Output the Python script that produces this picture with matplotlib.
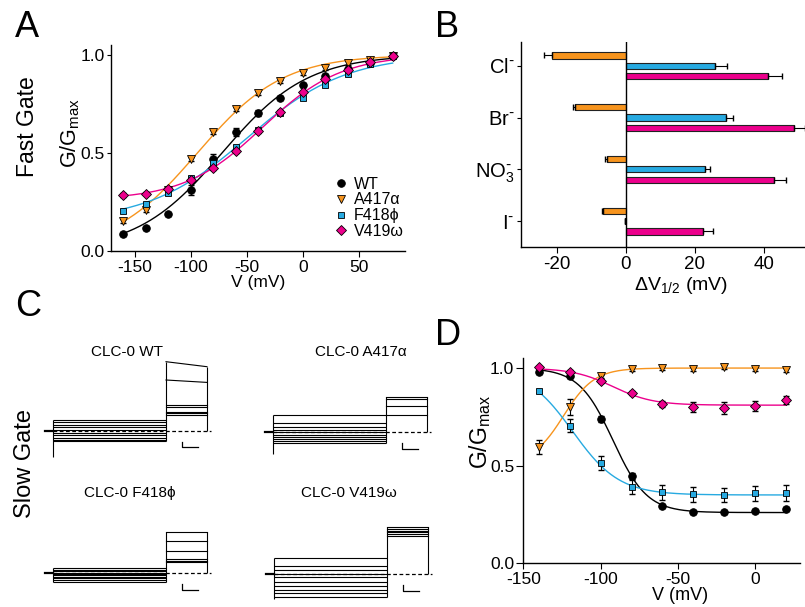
import numpy as np
import matplotlib
matplotlib.use("Agg")
import matplotlib.pyplot as plt
from matplotlib.ticker import FormatStrFormatter

plt.rcParams['font.family'] = ['Liberation Sans', 'DejaVu Sans']
plt.rcParams['axes.unicode_minus'] = False
plt.rcParams['axes.linewidth'] = 1.0
plt.rcParams['xtick.major.size'] = 4
plt.rcParams['ytick.major.size'] = 3
plt.rcParams['xtick.major.pad'] = 2.5
plt.rcParams['ytick.major.pad'] = 1.5
plt.rcParams['xtick.labelsize'] = 12.5
plt.rcParams['ytick.labelsize'] = 12.5

# ---- data ----
names = ['WT', 'A417α', 'F418ϕ', 'V419ω']
col_wt = 'black'
col_a = '#F7941D'
col_f = '#27AAE1'
col_v = '#EC008C'
colors = [col_wt, col_a, col_f, col_v]
markers = ['o', 'v', 's', 'D']
msizes = [5.5, 5.5, 4.8, 5.0]

# panel A, fast gate
v_fast = [-160, -140, -120, -100, -80, -60, -40, -20, 0, 20, 40, 60, 80]
wt_fast = [0.089, 0.118, 0.19, 0.31, 0.47, 0.605, 0.705, 0.78, 0.847, 0.893, 0.93, 0.96, 0.995]
a417_fast = [0.152, 0.208, 0.31, 0.467, 0.608, 0.726, 0.804, 0.864, 0.906, 0.935, 0.957, 0.974, 0.995]
f418_fast = [0.206, 0.242, 0.296, 0.373, 0.446, 0.531, 0.617, 0.702, 0.782, 0.847, 0.903, 0.952, 0.995]
v419_fast = [0.284, 0.293, 0.317, 0.361, 0.424, 0.511, 0.611, 0.709, 0.808, 0.876, 0.923, 0.961, 0.995]
wt_fast_err = [0.01, 0.01, 0.01, 0.025, 0.025, 0.02, 0.015, 0.01, 0.01, 0.01, 0.01, 0.01, 0.005]
a417_fast_err = [0.01] * 13
f418_fast_err = [0.01] * 13
v419_fast_err = [0.01] * 13

# panel B, shift of V1/2 for anions
ions = ['Cl$^{\\text{-}}$', 'Br$^{\\text{-}}$',
        'NO$_{\\mathregular{3}}^{\\text{-}}$', 'I$^{\\text{-}}$']
a417_dv = [-21.4, -14.6, -5.5, -6.5]
a417_dv_err = [2.2, 0.8, 0.5, 0.3]
f418_dv = [25.8, 28.9, 22.9, -0.3]
f418_dv_err = [3.4, 2.2, 1.3, 0.0]
v419_dv = [41.2, 48.7, 42.7, 22.4]
v419_dv_err = [3.9, 3.2, 3.6, 2.7]

# panel C, current levels of the traces (schematic units)
trace_t = [0, 8, 121, 162, 166]   # hold, test, tail, end, stop
wt_test = [10.7, 8.5, 6, 3.5, 1, -2, -4.5, -7, -9, -10.3]
wt_tail = [69, 50.7, 25.7, 24, 19, 17.3, 15.7]
wt_tail_end = [64, 48.3, 25.7, 24, 19, 17.3, 15.7]
a417_test = [17.3, 9.7, 5.5, 2.5, 0.7, -2.5, -4.5, -6.5, -8.5, -11]
a417_tail = [35, 33.3, 26.7, 17.3]
f418_test = [5, 3.5, 2, 0.8, -0.5, -2, -3.5, -5, -6.5, -8.3]
f418_tail = [41, 32.7, 22.3, 14.3, 12.5, 11]
v419_test = [15.7, 8.3, 4, 0, -3.3, -7.7, -11.7, -16, -19.3, -22.7]
v419_tail = [46.7, 45, 43.3, 41.7, 40, 38]
spikes = [-26, -21.7, -9, -25.3]

# panel D, slow gate
v_slow = [-140, -120, -100, -80, -60, -40, -20, 0, 20]
wt_slow = [0.98, 0.957, 0.741, 0.448, 0.295, 0.264, 0.264, 0.267, 0.278]
a417_slow = [0.596, 0.80, 0.957, 0.997, 1.0, 0.995, 1.005, 0.995, 0.99]
f418_slow = [0.884, 0.705, 0.513, 0.392, 0.363, 0.353, 0.351, 0.358, 0.361]
v419_slow = [1.003, 0.98, 0.932, 0.874, 0.818, 0.799, 0.797, 0.804, 0.838]
wt_slow_err = [0.01, 0.01, 0.015, 0.015, 0.01, 0.01, 0.01, 0.01, 0.01]
a417_slow_err = [0.035, 0.04, 0.01, 0.01, 0.01, 0.01, 0.01, 0.01, 0.01]
f418_slow_err = [0.01, 0.035, 0.035, 0.035, 0.04, 0.04, 0.035, 0.04, 0.04]
v419_slow_err = [0.01, 0.01, 0.01, 0.01, 0.015, 0.025, 0.03, 0.025, 0.02]


def boltzmann(v, pmin, vh, k):
    return pmin + (1 - pmin) / (1 + np.exp((v - vh) / k))


def fit_boltzmann(v, g):
    # crude grid search least squares
    v = np.asarray(v, float)
    g = np.asarray(g, float)
    pm = np.arange(0, 0.91, 0.01)
    vh = np.arange(-200, 41, 2.0)
    kk = np.r_[-np.arange(60, 3, -1.0), np.arange(4, 61, 1.0)]
    P, V, K = np.meshgrid(pm, vh, kk, indexing='ij')
    with np.errstate(over='ignore'):
        pred = boltzmann(v, P[..., None], V[..., None], K[..., None])
    sse = ((pred - g) ** 2).sum(-1)
    i = np.unravel_index(np.argmin(sse), sse.shape)
    return P[i], V[i], K[i]


W, H = 805, 607
fig = plt.figure(figsize=(W / 100, H / 100), dpi=100)


def px_axes(left, top, right, bottom):
    return fig.add_axes([left / W, 1 - bottom / H, (right - left) / W, (bottom - top) / H])


def clean(ax):
    ax.spines['top'].set_visible(False)
    ax.spines['right'].set_visible(False)


# ---- A ----
axA = px_axes(111, 45, 405, 251)
clean(axA)
fast = [wt_fast, a417_fast, f418_fast, v419_fast]
fast_err = [wt_fast_err, a417_fast_err, f418_fast_err, v419_fast_err]
vv = np.linspace(-160, 80, 200)
for g, e, c, m, ms, n in zip(fast, fast_err, colors, markers, msizes, names):
    p = fit_boltzmann(v_fast, g)
    axA.plot(vv, boltzmann(vv, *p), color=c, lw=1, zorder=1)
    axA.errorbar(v_fast, g, yerr=e, fmt='none', ecolor='k', elinewidth=0.8, capsize=2, zorder=2)
    axA.plot(v_fast, g, ls='none', marker=m, ms=ms, mfc=c, mec='k', mew=0.6, label=n, zorder=3)
axA.set_xlim(-171, 91)
axA.set_ylim(0, 1.05)
axA.set_xticks([-150, -100, -50, 0, 50])
axA.set_yticks([0, 0.5, 1.0])
axA.yaxis.set_major_formatter(FormatStrFormatter('%.1f'))
axA.set_xlabel('V (mV)', fontsize=12.5, labelpad=0)
axA.set_ylabel('G/G$_{\\mathregular{max}}$', fontsize=15.5)
axA.yaxis.set_label_coords(-0.097, 0.573)
axA.legend(loc='upper left', bbox_to_anchor=(0.735, 0.40), frameon=False, fontsize=11.5,
           handlelength=0.8, handletextpad=0.4, labelspacing=0.05, borderpad=0)

# ---- B ----
axB = px_axes(521, 42, 805, 247)
clean(axB)
yb = np.arange(len(ions))
for vals, errs, c, off in [(a417_dv, a417_dv_err, col_a, -0.2),
                           (f418_dv, f418_dv_err, col_f, 0.0),
                           (v419_dv, v419_dv_err, col_v, 0.2)]:
    vals = np.array(vals)
    errs = np.array(errs)
    axB.barh(yb + off, vals, height=0.12, color=c, edgecolor='#222222', lw=0.8, zorder=2)
    lo = np.where(vals < 0, errs, 0)
    hi = np.where(vals > 0, errs, 0)
    axB.errorbar(vals, yb + off, xerr=[lo, hi], fmt='none', ecolor='k', elinewidth=0.8,
                 capsize=2.5, zorder=3)
axB.axvline(0, color='k', lw=1, zorder=4)
axB.set_xlim(-30.3, 51.8)
axB.set_ylim(3.5, -0.46)
axB.set_yticks(yb)
axB.set_yticklabels(ions, fontsize=14.5)
axB.set_xticks([-20, 0, 20, 40])
axB.tick_params(axis='x', labelsize=13.5)
axB.set_xlabel('ΔV$_{\\mathregular{1/2}}$ (mV)', fontsize=14, labelpad=1)
axB.xaxis.set_label_coords(0.563, -0.135)

# ---- C ----
trace_sets = [
    (wt_test, wt_tail, wt_tail_end, 45, 430.7),
    (a417_test, a417_tail, a417_tail, 265, 432.3),
    (f418_test, f418_tail, f418_tail, 45, 573.3),
    (v419_test, v419_tail, v419_tail, 266, 574),
]
t0, t1, t2, t3, t4 = trace_t
for (test, tail, tail_end, x0, y0), sp in zip(trace_sets, spikes):
    ax = px_axes(x0 - 5, y0 - 75, x0 + 170, y0 + 30)
    ax.set_xlim(-5, 170)
    ax.set_ylim(-30, 75)
    ax.axis('off')
    lw = 0.8
    ax.plot([t0, t1], [0, 0], color='k', lw=1.6)
    ax.plot([t1, t4], [0, 0], color='k', lw=0.9, ls=(0, (3, 2)))
    ax.hlines(test, t1, t2, color='k', lw=lw)
    for a, b in zip(tail, tail_end):
        ax.plot([t2, t3], [a, b], color='k', lw=lw)
    ax.vlines(t1, sp, max(test), color='k', lw=lw)
    ax.vlines(t2, min(test), max(tail), color='k', lw=lw)
    ax.vlines(t3, 0, max(tail_end), color='k', lw=lw)
    # scale bar
    ax.plot([136.7, 136.7, 153.3], [-11, -16.5, -16.5], color='k', lw=0.9)

titles = [('CLC-0 WT', 127, 352), ('CLC-0 A417α', 361, 352),
          ('CLC-0 F418ϕ', 130, 493), ('CLC-0 V419ω', 349, 493)]
for s, x, y in titles:
    fig.text(x / W, 1 - y / H, s, fontsize=11, ha='center', va='center')

# ---- D ----
axD = px_axes(523.3, 358.3, 800, 563.3)
clean(axD)
slow = [wt_slow, a417_slow, f418_slow, v419_slow]
slow_err = [wt_slow_err, a417_slow_err, f418_slow_err, v419_slow_err]
vv = np.linspace(-140, 20, 200)
for g, e, c, m, ms in zip(slow, slow_err, colors, markers, msizes):
    p = fit_boltzmann(v_slow, g)
    axD.plot(vv, boltzmann(vv, *p), color=c, lw=1, zorder=1)
    axD.errorbar(v_slow, g, yerr=e, fmt='none', ecolor='k', elinewidth=0.8, capsize=2.5, zorder=2)
    axD.plot(v_slow, g, ls='none', marker=m, ms=ms, mfc=c, mec='k', mew=0.6, zorder=3)
axD.set_xlim(-150, 29)
axD.set_ylim(0, 1.05)
axD.set_xticks([-150, -100, -50, 0])
axD.set_yticks([0, 0.5, 1.0])
axD.tick_params(axis='y', length=5)
axD.yaxis.set_major_formatter(FormatStrFormatter('%.1f'))
axD.set_xlabel('V (mV)', fontsize=13, labelpad=0)
axD.xaxis.set_label_coords(0.566, -0.118)
axD.set_ylabel('G/G$_{\\mathregular{max}}$', fontsize=16.5)
axD.yaxis.set_label_coords(-0.108, 0.64)

# ---- panel letters and side labels ----
for s, x, y in [('A', 15, 37), ('B', 435, 37), ('C', 15, 316), ('D', 435, 345)]:
    fig.text(x / W, 1 - y / H, s, fontsize=26, va='baseline', ha='left')
fig.text(27 / W, 1 - 127 / H, 'Fast Gate', fontsize=16.5, rotation=90, ha='center', va='center')
fig.text(25 / W, 1 - 463 / H, 'Slow Gate', fontsize=17, rotation=90, ha='center', va='center')

fig.savefig('out.png', dpi=100)
